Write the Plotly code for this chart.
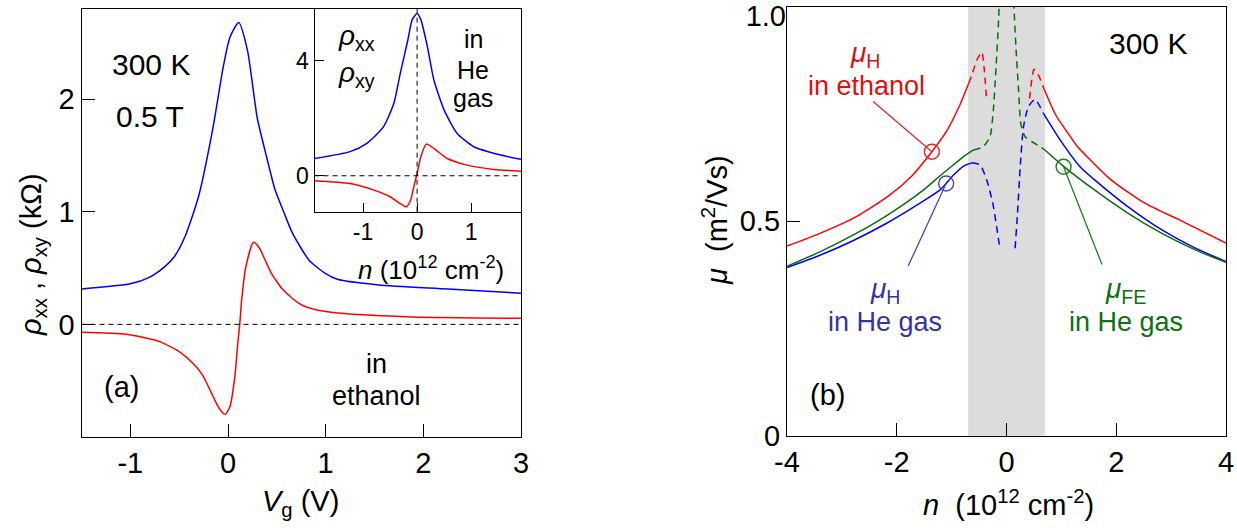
import plotly.graph_objects as go

W, H = 1237, 531
FONT = "Liberation Sans, Arial, sans-serif"

# ---------------- Panel (a): main, in ethanol ----------------
vg_xx = [-1.5, -1.0, -0.8, -0.65, -0.55, -0.44, -0.30, -0.155, -0.05, 0.02, 0.11,
         0.2, 0.30, 0.40, 0.48, 0.57, 0.66, 0.83, 1.0, 1.12, 1.54, 2.25, 3.0]
rho_xx = [0.315, 0.36, 0.42, 0.51, 0.60, 0.78, 1.14, 1.74, 2.28, 2.55, 2.68,
          2.43, 1.83, 1.47, 1.2, 1.0, 0.81, 0.57, 0.45, 0.40, 0.35, 0.315, 0.276]
vg_xy = [-1.5, -1.04, -0.70, -0.5, -0.36, -0.26, -0.16, -0.09, -0.03, 0.02, 0.07,
         0.10, 0.12, 0.14, 0.18, 0.26, 0.32, 0.375, 0.44, 0.50, 0.55, 0.66, 0.76, 0.9,
         1.19, 1.89, 3.0]
rho_xy = [-0.07, -0.088, -0.153, -0.242, -0.346, -0.45, -0.627, -0.746, -0.80, -0.73, -0.464,
          -0.17, 0.0, 0.217, 0.5, 0.73, 0.68, 0.58, 0.46, 0.38, 0.32, 0.23, 0.17, 0.13,
          0.096, 0.066, 0.054]

# ---------------- Inset: in He gas ----------------
n_in_xx = [-1.90, -1.24, -0.93, -0.62, -0.43, -0.31, -0.17, -0.09, 0.0, 0.07, 0.19,
           0.31, 0.50, 0.74, 1.05, 1.55, 1.93]
rho_in_xx = [0.60, 0.84, 1.13, 1.71, 2.52, 3.57, 4.73, 5.43, 5.64, 5.43, 4.5,
             3.34, 2.29, 1.48, 1.01, 0.72, 0.57]
n_in_xy = [-1.90, -1.24, -0.80, -0.50, -0.31, -0.2, -0.12, -0.06, 0.0, 0.07, 0.17,
           0.31, 0.56, 0.93, 1.42, 1.93]
rho_in_xy = [-0.17, -0.27, -0.5, -0.73, -0.97, -1.08, -0.85, -0.38, 0.08, 0.66, 1.10,
             0.95, 0.6, 0.37, 0.22, 0.16]

# ---------------- Panel (b): mobilities ----------------
# mu_H in ethanol (red)
n_eth_l = [-4.0, -3.41, -2.79, -2.16, -1.73, -1.36, -1.1, -0.85, -0.69]
mu_eth_l = [0.442, 0.471, 0.507, 0.558, 0.605, 0.662, 0.708, 0.771, 0.821]
n_eth_ld = [-0.69, -0.63, -0.54, -0.45, -0.41, -0.36]
mu_eth_ld = [0.821, 0.841, 0.876, 0.894, 0.86, 0.779]
n_eth_rd = [0.42, 0.46, 0.50, 0.58, 0.67]
mu_eth_rd = [0.786, 0.829, 0.854, 0.841, 0.813]
n_eth_r = [0.67, 0.9, 1.165, 1.28, 1.9, 2.52, 3.15, 4.0]
mu_eth_r = [0.813, 0.747, 0.697, 0.676, 0.597, 0.542, 0.503, 0.449]

# mu_H in He gas (blue)
n_heh_l = [-4.0, -3.41, -2.79, -2.16, -1.54, -1.21, -0.97, -0.79, -0.63]
mu_heh_l = [0.392, 0.42, 0.455, 0.497, 0.545, 0.573, 0.607, 0.628, 0.636]
n_heh_ld = [-0.63, -0.48, -0.36, -0.25, -0.18, -0.13]
mu_heh_ld = [0.636, 0.631, 0.596, 0.542, 0.487, 0.445]
n_heh_rd = [0.157, 0.2, 0.25, 0.31, 0.40, 0.52, 0.67]
mu_heh_rd = [0.437, 0.518, 0.627, 0.72, 0.767, 0.784, 0.752]
n_heh_r = [0.67, 0.98, 1.34, 1.59, 2.21, 2.84, 3.46, 4.0]
mu_heh_r = [0.752, 0.689, 0.627, 0.598, 0.534, 0.479, 0.436, 0.406]

# mu_FE in He gas (green)
n_fe_l = [-4.0, -3.41, -2.79, -2.16, -1.54, -1.21, -0.97, -0.79, -0.6]
mu_fe_l = [0.395, 0.428, 0.468, 0.515, 0.57, 0.606, 0.631, 0.65, 0.666]
n_fe_ld = [-0.6, -0.42, -0.30, -0.24, -0.19, -0.15, -0.12]
mu_fe_ld = [0.666, 0.674, 0.697, 0.759, 0.86, 0.953, 1.05]
n_fe_rd = [0.12, 0.175, 0.22, 0.26, 0.34, 0.61, 0.70]
mu_fe_rd = [1.04, 0.899, 0.806, 0.728, 0.697, 0.674, 0.666]
n_fe_r = [0.70, 1.03, 1.59, 2.21, 2.84, 3.46, 4.0]
mu_fe_r = [0.666, 0.629, 0.574, 0.519, 0.471, 0.432, 0.404]

# marker circles and pointer line ends (n, mu)
circ_n = [-1.36, -1.10, 1.04]
circ_mu = [0.662, 0.588, 0.627]
ptr_n = [-2.43, -1.79, 1.74]
ptr_mu = [0.779, 0.396, 0.399]
band = [-0.7, 0.7]

RED, BLUE, GREEN = "#ff0000", "#0000ff", "#0a6e0a"

fig = go.Figure()

def line(x, y, color, xa, ya, dash="solid", width=1.5):
    fig.add_trace(go.Scatter(x=x, y=y, mode="lines", xaxis=xa, yaxis=ya,
                             line=dict(color=color, width=width, dash=dash,
                                       shape="spline", smoothing=0.6),
                             showlegend=False, hoverinfo="skip"))

line(vg_xx, rho_xx, BLUE, "x", "y")
line(vg_xy, rho_xy, RED, "x", "y")
line(n_in_xx, rho_in_xx, BLUE, "x2", "y2")
line(n_in_xy, rho_in_xy, RED, "x2", "y2")

DASH = "7px,5px"
for (xs, ys, c) in [(n_eth_l, mu_eth_l, RED), (n_eth_r, mu_eth_r, RED),
                    (n_heh_l, mu_heh_l, BLUE), (n_heh_r, mu_heh_r, BLUE),
                    (n_fe_l, mu_fe_l, GREEN), (n_fe_r, mu_fe_r, GREEN)]:
    line(xs, ys, c, "x3", "y3")
for (xs, ys, c) in [(n_eth_ld, mu_eth_ld, RED), (n_eth_rd, mu_eth_rd, RED),
                    (n_heh_ld, mu_heh_ld, BLUE), (n_heh_rd, mu_heh_rd, BLUE),
                    (n_fe_ld, mu_fe_ld, GREEN), (n_fe_rd, mu_fe_rd, GREEN)]:
    line(xs, ys, c, "x3", "y4", dash=DASH)

circ_cols = ["#e02828", "#4848a8", "#1a801a"]
fig.add_trace(go.Scatter(x=circ_n, y=circ_mu, mode="markers", xaxis="x3", yaxis="y3",
                         marker=dict(symbol="circle-open", size=15, color=circ_cols,
                                     line=dict(width=1.4)),
                         showlegend=False, hoverinfo="skip"))

shapes = []
# zero lines
shapes.append(dict(type="line", xref="x domain", yref="y", x0=0, x1=1, y0=0, y1=0,
                   line=dict(color="black", width=1, dash="5px,4px")))
shapes.append(dict(type="line", xref="x2 domain", yref="y2", x0=0, x1=1, y0=0, y1=0,
                   line=dict(color="black", width=1, dash="5px,4px")))
shapes.append(dict(type="line", xref="x2", yref="y2 domain", x0=0, x1=0, y0=0, y1=1,
                   line=dict(color="black", width=1, dash="5px,4px")))
# gray band
shapes.append(dict(type="rect", xref="x3", yref="y3 domain", x0=band[0], x1=band[1],
                   y0=0, y1=1, fillcolor="#dcdcdc", line=dict(width=0), layer="below"))
# pointer lines
for i, c in enumerate(circ_cols):
    shapes.append(dict(type="line", xref="x3", yref="y3", x0=ptr_n[i], y0=ptr_mu[i],
                       x1=circ_n[i], y1=circ_mu[i], line=dict(color=c, width=1.3)))

def px(x):
    return x / W

def py(y):
    return 1 - y / H

def ax(domain, rng, tickvals, ticktext, anchor, size, ticklen):
    return dict(domain=domain, range=rng, tickvals=tickvals, ticktext=ticktext,
                ticks="inside", ticklen=ticklen, tickwidth=1.3, tickcolor="black",
                showline=True, linecolor="black", linewidth=1.3, mirror=True,
                showgrid=False, zeroline=False, anchor=anchor, automargin=False,
                tickfont=dict(family=FONT, size=size, color="black"))

layout = dict(
    template="none",
    width=W, height=H, margin=dict(l=0, r=0, t=0, b=0, pad=0),
    paper_bgcolor="white", plot_bgcolor="rgba(0,0,0,0)", showlegend=False,
    font=dict(family=FONT, color="black"),
    xaxis=ax([px(81.5), px(521)], [-1.5, 3], [-1, 0, 1, 2, 3],
             ["-1", "0", "1", "2", "3"], "y", 29, 13),
    yaxis=ax([py(437), py(9)], [-1, 2.8], [0, 1, 2], ["0", "1", "2"], "x", 29, 13),
    xaxis2=ax([px(314.5), px(521)], [-1.9, 1.925], [-1, 0, 1], ["-1", "0", "1"], "y2", 23, 9),
    yaxis2=ax([py(211.7), py(9)], [-1.25, 5.8], [0, 4], ["0", "4"], "x2", 23, 9),
    xaxis3=ax([px(787), px(1226)], [-4, 4], [-4, -2, 0, 2, 4],
              ["-4", "-2", "0", "2", "4"], "y3", 29, 13),
    yaxis3=ax([py(435.7), py(6.7)], [0, 1], [0, 0.5, 1.0], ["0", "0.5", ""], "x3", 29, 13),
    yaxis4=dict(overlaying="y3", anchor="x3", side="left", range=[0, 1],
                tickvals=[1.0], ticktext=["1.0"], automargin=False,
                ticks="", showline=False, showgrid=False, zeroline=False,
                ticklabelshift=9, ticklabeloverflow="allow",
                tickfont=dict(family=FONT, size=29, color="black")),
    shapes=shapes,
)
fig.update_layout(**layout)

def ann(text, x, y, size, color="black", xanchor="center", angle=0):
    fig.add_annotation(text=text, x=px(x), y=py(y), xref="paper", yref="paper",
                       showarrow=False, xanchor=xanchor, yanchor="middle",
                       textangle=angle,
                       font=dict(family=FONT, size=size, color=color))

# Panel (a) text
ann("300 K", 151, 64, 30)
ann("0.5 T", 150, 117, 30)
ann("(a)", 121, 387, 29)
ann("in", 376, 364, 27)
ann("ethanol", 376, 396, 27)
ann("<i>V</i><sub>g</sub> (V)", 300, 503, 29)
ann("<i>ρ</i><sub>xx</sub> , <i>ρ</i><sub>xy</sub> (kΩ)", 33, 255, 29, angle=-90)
# inset text
ann("<i>ρ</i><sub>xx</sub>", 336, 38, 28, xanchor="left")
ann("<i>ρ</i><sub>xy</sub>", 336, 74, 28, xanchor="left")
ann("in", 473, 39, 25)
ann("He", 473, 70, 25)
ann("gas", 473, 98, 25)
ann("<i>n</i> (10<sup>12</sup> cm<sup>-2</sup>)", 431, 268, 26)
# Panel (b) text
ann("300 K", 1148, 44, 30)
ann("(b)", 827, 395, 29)
ann("<i>μ</i><sub>H</sub>", 865, 55, 28, color="#dd1111")
ann("in ethanol", 866, 86, 27, color="#dd1111")
ann("<i>μ</i><sub>H</sub>", 885, 291, 28, color="#3535a0")
ann("in He gas", 885, 322, 27, color="#3535a0")
ann("<i>μ</i><sub>FE</sub>", 1125, 291, 28, color="#107010")
ann("in He gas", 1126, 322, 27, color="#107010")
ann("<i>n</i>  (10<sup>12</sup> cm<sup>-2</sup>)", 1008, 503, 29)
ann("<i>μ</i>  (m<sup>2</sup>/Vs)", 715, 220, 29, angle=-90)

fig.write_html("out.html", config={"displayModeBar": False},
               post_script="document.body.style.margin='0';")
